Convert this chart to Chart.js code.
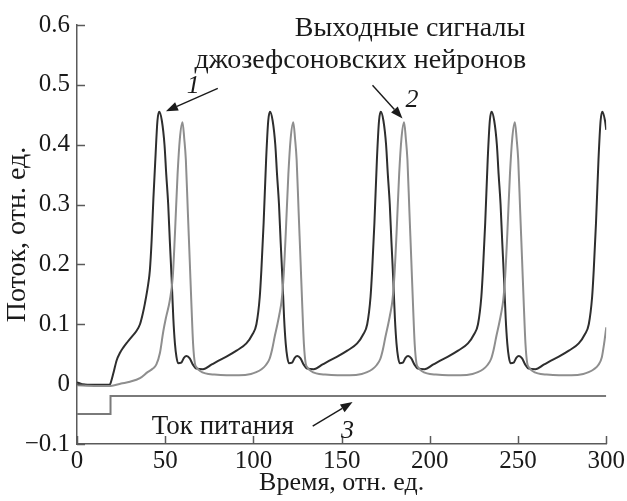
<!DOCTYPE html>
<html>
<head>
<meta charset="utf-8">
<script src="https://cdn.jsdelivr.net/npm/chart.js@4.4.1/dist/chart.umd.min.js"></script>
<style>
  html, body { margin: 0; padding: 0; background: #fff; }
  #wrap { width: 627px; height: 501px; }
</style>
</head>
<body>
<div id="wrap"><canvas id="c" width="627" height="501"></canvas></div>
<script>
// ---- data ----
const xTicks = [0, 50, 100, 150, 200, 250, 300];
const yTicks = [-0.1, 0, 0.1, 0.2, 0.3, 0.4, 0.5, 0.6];

// neuron 1 output (dark curve)
const time1 = [0,3,10,18.5,19.5,20.6,22.5,24.3,26.2,28.5,31,33.5,35.7,37.3,38.5,40.4,41.3,42.3,43.3,44.4,45.6,46.6,
  48.1,49.6,50.6,51.7,52.6,53.6,54.6,55.5,56.4,57.3,59.1,60.6,62.1,63.9,65.6,67.7,71.4,
  76.4,81.4,84.7,90.4,96,99.4,101.7,103.6,104.5,105.8,107.2,108.4,109.4,
  110.9,112.4,113.4,114.5,115.4,116.4,117.4,118.3,119.2,120.1,121.9,123.4,124.9,126.7,128.4,130.5,134.2,
  139.2,144.2,147.5,153.2,158.8,162.2,164.5,166.4,167.3,168.6,170,171.2,172.2,
  173.7,175.2,176.2,177.3,178.2,179.2,180.2,181.1,182,182.9,184.7,186.2,187.7,189.5,191.2,193.3,197,
  202,207,210.3,216,221.6,225,227.3,229.2,230.1,231.4,232.8,234,235,
  236.5,238,239,240.1,241,242,243,243.9,244.8,245.7,247.5,249,250.5,252.3,254,256.1,259.8,
  264.8,269.8,273.1,278.8,284.4,287.8,290.1,292,292.9,294.2,295.6,296.8,297.8,299.3,300];
const flux1 = [0.003,0,-0.001,-0.001,0.006,0.018,0.04,0.052,0.061,0.07,0.079,0.088,0.10,0.118,0.135,0.168,0.19,0.24,0.31,0.375,0.44,0.455,
  0.44,0.40,0.35,0.30,0.24,0.179,0.11,0.068,0.045,0.035,0.036,0.044,0.047,0.043,0.033,0.026,0.025,
  0.033,0.041,0.046,0.056,0.068,0.083,0.10,0.146,0.19,0.27,0.375,0.44,0.455,
  0.44,0.40,0.35,0.30,0.24,0.179,0.11,0.068,0.045,0.035,0.036,0.044,0.047,0.043,0.033,0.026,0.025,
  0.033,0.041,0.046,0.056,0.068,0.083,0.10,0.146,0.19,0.27,0.375,0.44,0.455,
  0.44,0.40,0.35,0.30,0.24,0.179,0.11,0.068,0.045,0.035,0.036,0.044,0.047,0.043,0.033,0.026,0.025,
  0.033,0.041,0.046,0.056,0.068,0.083,0.10,0.146,0.19,0.27,0.375,0.44,0.455,
  0.44,0.40,0.35,0.30,0.24,0.179,0.11,0.068,0.045,0.035,0.036,0.044,0.047,0.043,0.033,0.026,0.025,
  0.033,0.041,0.046,0.056,0.068,0.083,0.10,0.146,0.19,0.27,0.375,0.44,0.455,0.44,0.425];

// neuron 2 output (light curve)
const time2 = [0,10,19,25,30,35.7,40,43,45,47,48.9,50.5,52.6,54.3,55.5,57,58.3,59.8,
  60.8,61.7,62.8,63.9,64.9,65.8,66.8,67.8,69.8,72.8,77.8,84.8,91.8,
  98.6,101.6,104.6,107.1,109.1,110.6,112.1,113.6,114.8,116,117.1,118.3,119.8,121.1,122.6,
  123.6,124.5,125.6,126.7,127.7,128.6,129.6,130.6,132.6,135.6,140.6,147.6,154.6,
  161.4,164.4,167.4,169.9,171.9,173.4,174.9,176.4,177.6,178.8,179.9,181.1,182.6,183.9,185.4,
  186.4,187.3,188.4,189.5,190.5,191.4,192.4,193.4,195.4,198.4,203.4,210.4,217.4,
  224.2,227.2,230.2,232.7,234.7,236.2,237.7,239.2,240.4,241.6,242.7,243.9,245.4,246.7,248.2,
  249.2,250.1,251.2,252.3,253.3,254.2,255.2,256.2,258.2,261.2,266.2,273.2,280.2,
  287,290,293,295.5,297.5,299,300];
const flux2 = [-0.002,-0.003,-0.003,0.001,0.004,0.01,0.02,0.026,0.033,0.052,0.088,0.112,0.14,0.18,0.25,0.35,0.41,0.4375,
  0.41,0.375,0.29,0.207,0.13,0.068,0.035,0.028,0.022,0.018,0.016,0.015,0.015,
  0.017,0.02,0.025,0.032,0.042,0.058,0.08,0.1,0.118,0.14,0.18,0.25,0.35,0.41,0.4375,
  0.41,0.375,0.29,0.207,0.13,0.068,0.035,0.028,0.022,0.018,0.016,0.015,0.015,
  0.017,0.02,0.025,0.032,0.042,0.058,0.08,0.1,0.118,0.14,0.18,0.25,0.35,0.41,0.4375,
  0.41,0.375,0.29,0.207,0.13,0.068,0.035,0.028,0.022,0.018,0.016,0.015,0.015,
  0.017,0.02,0.025,0.032,0.042,0.058,0.08,0.1,0.118,0.14,0.18,0.25,0.35,0.41,0.4375,
  0.41,0.375,0.29,0.207,0.13,0.068,0.035,0.028,0.022,0.018,0.016,0.015,0.015,
  0.017,0.02,0.025,0.032,0.045,0.072,0.095];

// supply current (step)
const time3 = [0, 19, 19, 300];
const flux3 = [-0.05, -0.05, -0.02, -0.02];

const xTitle = 'Время, отн. ед.';
const yTitle = 'Поток, отн. ед.';
const titleLines = ['Выходные сигналы', 'джозефсоновских нейронов'];
const supplyLabel = 'Ток питания';
const curveNumbers = ['1', '2', '3'];

// ---- chart ----
const serif = '"Liberation Serif", "Times New Roman", serif';
const axisColor = '#5a5a5a';
const toPts = (t, v) => t.map((x, i) => ({ x: x, y: v[i] }));
const fmtY = v => {
  const r = Math.round(v * 10) / 10;
  if (Math.abs(r) < 1e-9) return '0';
  return r < 0 ? '\u2212' + Math.abs(r).toFixed(1) : r.toFixed(1);
};

const insideTicks = {
  id: 'insideTicks',
  afterDraw(chart) {
    const { ctx, chartArea: a, scales: { x, y } } = chart;
    ctx.save();
    ctx.strokeStyle = axisColor;
    ctx.lineWidth = 1.5;
    y.ticks.forEach((t, i) => {
      const p = Math.round(y.getPixelForTick(i)) + 0.5;
      ctx.beginPath(); ctx.moveTo(a.left, p); ctx.lineTo(a.left + 8, p); ctx.stroke();
    });
    x.ticks.forEach((t, i) => {
      const p = Math.round(x.getPixelForTick(i)) + 0.5;
      ctx.beginPath(); ctx.moveTo(p, a.bottom); ctx.lineTo(p, a.bottom - 8); ctx.stroke();
    });
    ctx.restore();
  }
};

// annotation anchors in data units
const notes = {
  line1: { x: 254.1, y: 0.581 },
  line2: { x: 254.7, y: 0.528 },
  num1: { x: 65.9, y: 0.487 },
  num2: { x: 189.9, y: 0.463 },
  num3: { x: 153.4, y: -0.090 },
  supply: { x: 42.4, y: -0.083 },
  arrows: [
    { from: { x: 79.8, y: 0.494 }, to: { x: 50.4, y: 0.456 } },
    { from: { x: 167.5, y: 0.4995 }, to: { x: 184.5, y: 0.444 } },
    { from: { x: 133.6, y: -0.070 }, to: { x: 156.2, y: -0.030 } }
  ]
};

const annotations = {
  id: 'annotations',
  afterDraw(chart) {
    const { ctx, scales: { x, y } } = chart;
    const P = p => [x.getPixelForValue(p.x), y.getPixelForValue(p.y)];
    ctx.save();
    ctx.fillStyle = '#1a1a1a';
    ctx.textBaseline = 'alphabetic';
    ctx.font = '28px ' + serif;
    ctx.textAlign = 'right';
    let q = P(notes.line1); ctx.fillText(titleLines[0], q[0], q[1]);
    q = P(notes.line2); ctx.fillText(titleLines[1], q[0], q[1]);
    ctx.textAlign = 'left';
    ctx.font = '27px ' + serif;
    q = P(notes.supply); ctx.fillText(supplyLabel, q[0], q[1]);
    ctx.font = 'italic 26px ' + serif;
    ctx.textAlign = 'center';
    [notes.num1, notes.num2, notes.num3].forEach((n, i) => {
      const r = P(n); ctx.fillText(curveNumbers[i], r[0], r[1]);
    });
    ctx.strokeStyle = '#1a1a1a';
    ctx.lineWidth = 1.4;
    notes.arrows.forEach(a => {
      const [x0, y0] = P(a.from), [x1, y1] = P(a.to);
      const ang = Math.atan2(y1 - y0, x1 - x0);
      const L = 12, W = 4.5;
      const bx = x1 - L * Math.cos(ang), by = y1 - L * Math.sin(ang);
      ctx.beginPath(); ctx.moveTo(x0, y0); ctx.lineTo(bx, by); ctx.stroke();
      ctx.beginPath();
      ctx.moveTo(x1, y1);
      ctx.lineTo(bx + W * Math.sin(ang), by - W * Math.cos(ang));
      ctx.lineTo(bx - W * Math.sin(ang), by + W * Math.cos(ang));
      ctx.closePath(); ctx.fill();
    });
    ctx.restore();
  }
};

new Chart(document.getElementById('c'), {
  type: 'line',
  data: {
    datasets: [
      { data: toPts(time3, flux3), borderColor: '#7a7a7a', borderWidth: 2, tension: 0, pointRadius: 0 },
      { data: toPts(time2, flux2), borderColor: '#8e8e8e', borderWidth: 2, cubicInterpolationMode: 'monotone', pointRadius: 0 },
      { data: toPts(time1, flux1), borderColor: '#2e2e2e', borderWidth: 2, cubicInterpolationMode: 'monotone', pointRadius: 0 }
    ]
  },
  options: {
    responsive: false,
    animation: false,
    events: [],
    layout: { padding: { left: 0, right: 20, top: 25, bottom: 0 } },
    plugins: { legend: { display: false }, tooltip: { enabled: false } },
    scales: {
      x: {
        type: 'linear', min: 0, max: 300,
        afterBuildTicks: s => { s.ticks = xTicks.map(v => ({ value: v })); },
        afterFit: s => { s.height = 57; },
        grid: { display: true, drawOnChartArea: false, drawTicks: false },
        border: { display: true, color: axisColor, width: 1.5 },
        ticks: { color: '#1a1a1a', padding: 2, maxRotation: 0, autoSkip: false,
                 font: { family: serif, size: 25 }, callback: v => String(v) },
        title: { display: true, text: xTitle, color: '#1a1a1a', padding: { top: 0, bottom: 2 },
                 font: { family: serif, size: 26 } }
      },
      y: {
        type: 'linear', min: -0.1, max: 0.6,
        afterBuildTicks: s => { s.ticks = yTicks.map(v => ({ value: v })); },
        afterFit: s => { s.width = 77; },
        grid: { display: true, drawOnChartArea: false, drawTicks: false },
        border: { display: true, color: axisColor, width: 1.5 },
        ticks: { color: '#1a1a1a', padding: 7, autoSkip: false,
                 font: { family: serif, size: 25 }, callback: v => fmtY(v) },
        title: { display: true, text: yTitle, color: '#1a1a1a', padding: { top: 1, bottom: 0 },
                 font: { family: serif, size: 28 } }
      }
    }
  },
  plugins: [insideTicks, annotations]
});
</script>
</body>
</html>
